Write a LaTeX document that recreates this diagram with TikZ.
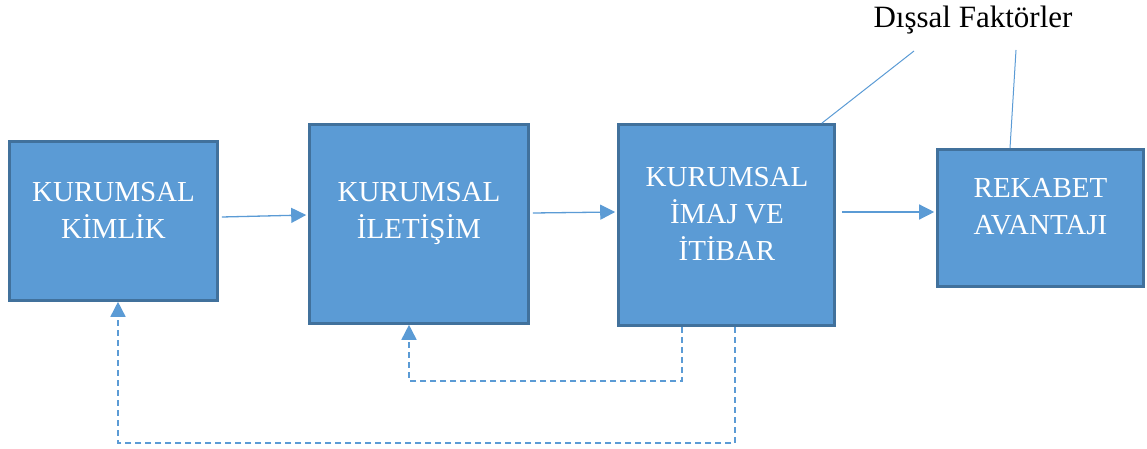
\documentclass[tikz,border=0pt]{standalone}
\usepackage{fontspec}
\setmainfont{Liberation Serif}
\usetikzlibrary{arrows.meta}
\definecolor{boxfill}{HTML}{5B9BD5}
\definecolor{boxedge}{HTML}{41719C}
\definecolor{linkblue}{HTML}{5B9BD5}
\begin{document}
\begin{tikzpicture}[x=1pt,y=-1pt,
  box/.style={draw=boxedge,line width=2.6pt,fill=boxfill,rectangle,inner sep=0pt},
  boxtext/.style={text=white,align=center,inner sep=0pt,
    font=\fontsize{29}{37}\selectfont},
  conn/.style={draw=linkblue,line width=1.3pt,-{Triangle[length=15pt,width=15pt]}},
  fbconn/.style={conn,line width=1.6pt,dash pattern=on 6pt off 4pt},
  factorline/.style={draw=linkblue,line width=1pt}]
  \useasboundingbox (0,0) rectangle (1147,449);

  % the four blocks
  \node[box,minimum width=208pt,minimum height=159pt] (kimlik) at (113.5,221) {};
  \node[box,minimum width=219pt,minimum height=199pt] (iletisim) at (419,224) {};
  \node[box,minimum width=216pt,minimum height=201pt] (imaj) at (726.5,225) {};
  \node[box,minimum width=206pt,minimum height=137pt] (rekabet) at (1040.5,218) {};

  % block captions
  \node[boxtext] (kimlikT) at (113.5,210) {KURUMSAL\\KİMLİK};
  \node[boxtext] (iletisimT) at (419,213) {KURUMSAL\\İLETİŞİM};
  \node[boxtext] (imajT) at (727,214) {KURUMSAL\\İMAJ VE\\İTİBAR};
  \node[boxtext] (rekabetT) at (1040.5,207) {REKABET\\AVANTAJI};

  % external factors
  \node[inner sep=0pt,font=\fontsize{31}{37}\selectfont] (dis) at (973,20) {Dışsal Faktörler};
  \coordinate (d1) at (914,51);
  \coordinate (d2) at (1016,50);
  \draw[factorline] (d1) -- ([xshift=-14pt]imaj.north east);
  \draw[factorline] (d2) -- ([xshift=-30.5pt]rekabet.north);

  % forward flow
  \draw[conn] ([shift={(3,-4)}]kimlik.east) -- ([shift={(-2,-9)}]iletisim.west);
  \draw[conn] ([shift={(3,-11)}]iletisim.east) -- ([shift={(-2,-13)}]imaj.west);
  \draw[conn] ([shift={(6,-13)}]imaj.east) -- ([shift={(-2,-6)}]rekabet.west);

  % feedback loops
  \draw[fbconn] ([xshift=-44.5pt]imaj.south) -- ++(0,54) -| ([xshift=-10pt]iletisim.south);
  \draw[fbconn] ([xshift=8.5pt]imaj.south) -- ++(0,116) -| ([xshift=4.5pt]kimlik.south);
\end{tikzpicture}
\end{document}
